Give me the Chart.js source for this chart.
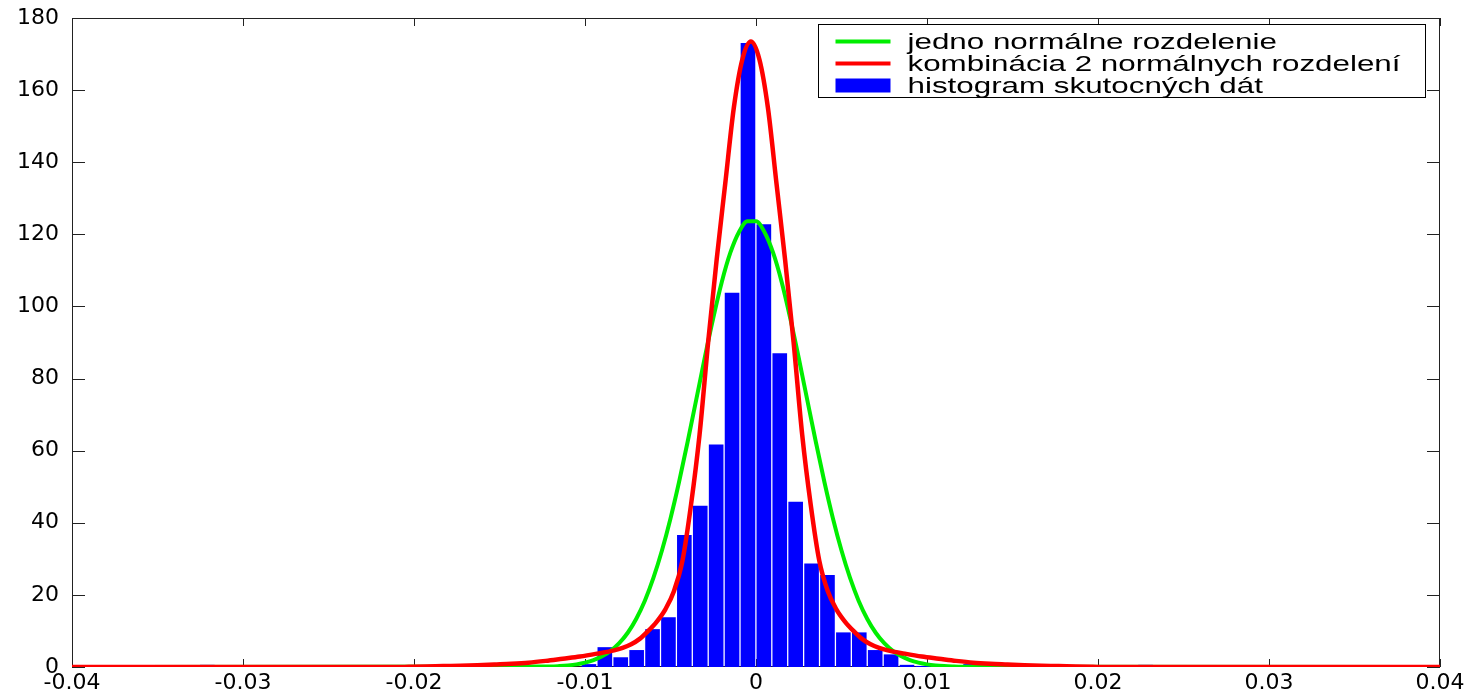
<!DOCTYPE html>
<html>
<head>
<meta charset="utf-8">
<script src="https://cdn.jsdelivr.net/npm/chart.js@4.4.0/dist/chart.umd.min.js"></script>
<style>
  html, body { margin: 0; padding: 0; background: #fff; }
  #wrap { width: 1474px; height: 695px; position: relative; }
</style>
</head>
<body>
<div id="wrap"><canvas id="chart"></canvas></div>
<script>
// histogram bins (bin centres and heights)
const binCenters = [-0.03209, -0.01256, -0.00977, -0.00884, -0.00791, -0.00698, -0.00605, -0.00512,
  -0.00419, -0.00326, -0.00233, -0.00140, -0.00047, 0.00046, 0.00139, 0.00232, 0.00325, 0.00418,
  0.00511, 0.00604, 0.00697, 0.00790, 0.00883, 0.00976, 0.01162, 0.01255, 0.02278];
const binHeights = [0.6, 0.5, 0.8, 5.5, 2.7, 4.7, 10.5, 13.8,
  36.6, 44.7, 61.7, 103.8, 173.1, 122.8, 87, 45.8, 28.7, 25.5,
  9.6, 9.6, 4.7, 3.5, 0.6, 0.3, 0.4, 0.8, 0.6];

// single normal fit (green)
const greenX = [-0.04, -0.012, -0.0115, -0.011, -0.0105, -0.01, -0.0095, -0.009, -0.0085, -0.008,
  -0.0075, -0.007, -0.0065, -0.006, -0.0055, -0.005, -0.0045, -0.004, -0.0035, -0.003, -0.0025,
  -0.002, -0.0015, -0.001, -0.0005, 0, 0.0005, 0.001, 0.0015, 0.002, 0.0025, 0.003, 0.0035, 0.004,
  0.0045, 0.005, 0.0055, 0.006, 0.0065, 0.007, 0.0075, 0.008, 0.0085, 0.009, 0.0095, 0.01, 0.0105,
  0.011, 0.0115, 0.012, 0.04];
const greenY = [0, 0.15, 0.26, 0.44, 0.73, 1.2, 1.9, 2.95, 4.47, 6.6,
  9.5, 13.4, 18.4, 24.7, 32.3, 41.2, 51.3, 62.4, 74.0, 85.7, 96.8,
  106.8, 114.9, 120.6, 123.6, 123.6, 120.6, 114.9, 106.8, 96.8, 85.7, 74.0, 62.4, 51.3,
  41.2, 32.3, 24.7, 18.4, 13.4, 9.5, 6.6, 4.47, 2.95, 1.9, 1.2, 0.73, 0.44,
  0.26, 0.15, 0.08, 0];

// mixture of two normals (red)
const redX = [-0.04, -0.0213, -0.0203, -0.0193, -0.0183, -0.0173, -0.0163, -0.0153, -0.0143, -0.0133,
  -0.0123, -0.0113, -0.0103, -0.0093, -0.0083, -0.0078, -0.0073, -0.0068, -0.0063, -0.0058, -0.0053,
  -0.0048, -0.0043, -0.0038, -0.0033, -0.0028, -0.0023, -0.0018, -0.0013, -0.0008, -0.0003, 0.0002,
  0.0007, 0.0012, 0.0017, 0.0022, 0.0027, 0.0032, 0.0037, 0.0042, 0.0047, 0.0052, 0.0057, 0.0062,
  0.0067, 0.0072, 0.0077, 0.0087, 0.0097, 0.0107, 0.0117, 0.0127, 0.0137, 0.0147, 0.0157, 0.0167,
  0.0177, 0.0187, 0.0197, 0.0207, 0.04];
const redY = [0, 0, 0.05, 0.12, 0.25, 0.35, 0.5, 0.7, 0.9, 1.2,
  1.7, 2.3, 2.9, 3.7, 4.6, 5.3, 6.3, 7.8, 10, 12.6, 16,
  21, 29.5, 45, 64.5, 90, 113, 134, 155, 168.5, 173.5, 168.5,
  155, 134, 113, 90, 64.5, 45, 29.5, 21, 16, 12.6, 10, 7.8,
  6.3, 5.3, 4.6, 3.7, 2.9, 2.3, 1.7, 1.2, 0.9, 0.7, 0.5, 0.35,
  0.25, 0.12, 0.05, 0, 0];

const xTicks = [-0.04, -0.03, -0.02, -0.01, 0, 0.01, 0.02, 0.03, 0.04];
const xTickLabels = ['-0.04', '-0.03', '-0.02', '-0.01', '0', '0.01', '0.02', '0.03', '0.04'];
const yTicks = [0, 20, 40, 60, 80, 100, 120, 140, 160, 180];

const legendLabels = ['jedno normálne rozdelenie', 'kombinácia 2 normálnych rozdelení', 'histogram skutocných dát'];

const GREEN = '#00ee00', RED = '#ff0000', BLUE = '#0000ff';

// box around the axes + inward tick marks, matlab style
const frame = {
  id: 'frame',
  beforeDatasetsDraw(chart) {
    const { ctx, chartArea: a, scales: { x, y } } = chart;
    ctx.save();
    ctx.strokeStyle = '#222';
    ctx.lineWidth = 1;
    ctx.strokeRect(Math.round(a.left) + 0.5, Math.round(a.top) + 0.5,
      Math.round(a.width) - 1, Math.round(a.height) - 1);
    ctx.beginPath();
    xTicks.forEach(v => {
      const px = Math.round(x.getPixelForValue(v)) + 0.5;
      ctx.moveTo(px, a.bottom); ctx.lineTo(px, a.bottom - 8);
      ctx.moveTo(px, a.top); ctx.lineTo(px, a.top + 8);
    });
    yTicks.forEach(v => {
      const py = Math.round(y.getPixelForValue(v)) + 0.5;
      ctx.moveTo(a.left, py); ctx.lineTo(a.left + 13, py);
      ctx.moveTo(a.right, py); ctx.lineTo(a.right - 13, py);
    });
    ctx.stroke();
    ctx.restore();
  }
};

// legend box in the upper right corner (text is stretched sideways like the original)
const legendBox = {
  id: 'legendBox',
  afterDraw(chart) {
    const { ctx, chartArea: a } = chart;
    ctx.save();
    ctx.font = '22px "Liberation Sans", Arial, sans-serif';
    const w = Math.max(...legendLabels.map(t => ctx.measureText(t).width));
    const textW = 493;
    const sx = textW / w;
    const boxW = 89 + textW + 25;
    const left = Math.round(a.right - 15 - boxW) + 0.5;
    const top = Math.round(a.top + 6) + 0.5;
    ctx.fillStyle = '#fff';
    ctx.fillRect(left, top, boxW, 73);
    ctx.strokeStyle = '#000';
    ctx.lineWidth = 1;
    ctx.strokeRect(left, top, boxW, 73);
    const colors = [GREEN, RED, BLUE];
    legendLabels.forEach((t, i) => {
      const cy = top + 17 + i * 22;
      if (i < 2) {
        ctx.strokeStyle = colors[i];
        ctx.lineWidth = 4;
        ctx.beginPath();
        ctx.moveTo(left + 17, cy); ctx.lineTo(left + 72, cy);
        ctx.stroke();
      } else {
        ctx.fillStyle = colors[i];
        ctx.fillRect(left + 17, cy - 7, 55, 14);
      }
      ctx.save();
      ctx.translate(left + 89, cy + 1);
      ctx.scale(sx, 1);
      ctx.fillStyle = '#000';
      ctx.textBaseline = 'middle';
      ctx.fillText(t, 0, 0);
      ctx.restore();
    });
    ctx.restore();
  }
};

const ctx = document.getElementById('chart').getContext('2d');
const chart = new Chart(ctx, {
  type: 'bar',
  data: {
    datasets: [
      {
        type: 'line',
        label: legendLabels[1],
        data: redX.map((v, i) => ({ x: v, y: redY[i] })),
        borderColor: RED,
        borderWidth: 4.5,
        pointRadius: 0,
        cubicInterpolationMode: 'monotone',
        fill: false,
        order: 1
      },
      {
        type: 'line',
        label: legendLabels[0],
        data: greenX.map((v, i) => ({ x: v, y: greenY[i] })),
        borderColor: GREEN,
        borderWidth: 4,
        pointRadius: 0,
        cubicInterpolationMode: 'monotone',
        fill: false,
        order: 2
      },
      {
        type: 'bar',
        label: legendLabels[2],
        data: binCenters.map((v, i) => ({ x: v, y: binHeights[i] })),
        backgroundColor: BLUE,
        borderWidth: 0,
        barPercentage: 0.92,
        categoryPercentage: 1,
        order: 3
      }
    ]
  },
  options: {
    responsive: true,
    maintainAspectRatio: false,
    animation: false,
    layout: { padding: { top: 18, right: 34, left: 0, bottom: 0 } },
    scales: {
      x: {
        type: 'linear',
        min: -0.04,
        max: 0.04,
        offset: false,
        grid: { display: false, drawTicks: false },
        border: { display: false },
        afterBuildTicks: s => { s.ticks = xTicks.map(v => ({ value: v })); },
        afterFit: s => { s.height = 28; },
        ticks: {
          autoSkip: false,
          maxRotation: 0,
          padding: 3,
          color: '#000',
          font: { family: '"DejaVu Sans"', size: 22 },
          callback: (v, i) => xTickLabels[i]
        }
      },
      y: {
        min: 0,
        max: 180,
        grid: { display: false, drawTicks: false },
        border: { display: false },
        afterBuildTicks: s => { s.ticks = yTicks.map(v => ({ value: v })); },
        afterFit: s => { s.width = 72; s.paddingTop = 0; s.paddingBottom = 0; },
        ticks: {
          padding: 13,
          color: '#000',
          font: { family: '"DejaVu Sans"', size: 22 },
          callback: v => String(v)
        }
      }
    },
    plugins: {
      legend: { display: false },
      tooltip: { enabled: false }
    }
  },
  plugins: [frame, legendBox]
});
</script>
</body>
</html>
